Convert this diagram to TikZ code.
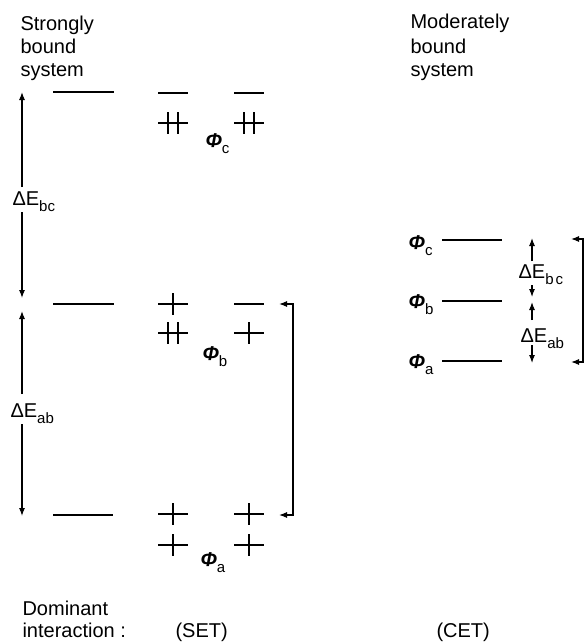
\documentclass[tikz,border=0pt]{standalone}
\usepackage{fontspec}
\setmainfont{Liberation Sans}
\usetikzlibrary{arrows.meta}
\newcommand{\lowsub}[1]{\raisebox{-6pt}{\fontsize{15}{15}\selectfont #1}}
\newcommand{\phisym}{{\bfseries\itshape Φ}}
\tikzset{
  txt/.style={anchor=base west, inner sep=0pt, font=\fontsize{20}{23}\selectfont},
  arr/.style={-{Latex[length=8pt,width=6pt]}},
  biarr/.style={{Latex[length=8pt,width=6pt]}-{Latex[length=8pt,width=6pt]}},
  pzero/.pic={\draw (-15,0)--(15,0);},
  pone/.pic={\draw (-15,0)--(15,0); \draw (0,-11)--(0,11);},
  ptwo/.pic={\draw (-15,0)--(15,0); \draw (-5,-11)--(-5,11); \draw (5,-11)--(5,11);}
}
\begin{document}
\begin{tikzpicture}[x=1pt,y=-1pt,line width=1.1pt]
\useasboundingbox (0,0) rectangle (588,642);

% titles
\node[txt] (s1) at (20,31) {Strongly};
\node[txt] (s2) at (20,54) {bound};
\node[txt] (s3) at (20,77) {system};
\node[txt] (m1) at (410,29) {Moderately};
\node[txt] (m2) at (410,53) {bound};
\node[txt] (m3) at (410,76) {system};

% bottom texts
\node[txt] (d1) at (22,615) {Dominant};
\node[txt] (d2) at (22,637) {interaction :};
\node[txt] (set) at (175,637) {(SET)};
\node[txt] (cet) at (436,637) {(CET)};

% left levels
\draw (53,92) -- (114,92);
\draw (53,304) -- (114,304);
\draw (53,515) -- (113,515);

% electron configurations
\pic at (173,93) {pzero};
\pic at (249,93) {pzero};
\pic at (173,123) {ptwo};
\pic at (249,123) {ptwo};
\pic at (173,304) {pone};
\pic at (249,304) {pzero};
\pic at (173,333) {ptwo};
\pic at (249,333) {pone};
\pic at (173,514) {pone};
\pic at (249,514) {pone};
\pic at (173,545) {pone};
\pic at (249,545) {pone};

% phi labels left
\node[txt] (phc) at (205,147) {\phisym\lowsub{c}};
\node[txt] (phb) at (202,360) {\phisym\lowsub{b}};
\node[txt] (pha) at (200,566) {\phisym\lowsub{a}};

% left energy-gap arrows
\node[txt] (ebcL) at (12,205) {ΔE\lowsub{bc}};
\node[txt] (eabL) at (10,417) {ΔE\lowsub{ab}};
\coordinate (L1top) at (22,92);
\coordinate (L1a) at (22,187);
\coordinate (L1b) at (22,212);
\coordinate (L1bot) at (22,298);
\coordinate (L2top) at (22,311);
\coordinate (L2a) at (22,394);
\coordinate (L2b) at (22,424);
\coordinate (L2bot) at (22,516);
\draw[arr] (L1a) -- (L1top);
\draw[arr] (L1b) -- (L1bot);
\draw[arr] (L2a) -- (L2top);
\draw[arr] (L2b) -- (L2bot);

% left bracket
\coordinate (BL1) at (279,304);
\coordinate (BLc1) at (293,304);
\coordinate (BLc2) at (293,515);
\coordinate (BL2) at (279,515);
\draw[biarr] (BL1) -- (BLc1) -- (BLc2) -- (BL2);

% right levels
\node[txt] (rphc) at (408,249) {\phisym\lowsub{c}};
\node[txt] (rphb) at (408,308) {\phisym\lowsub{b}};
\node[txt] (rpha) at (408,368) {\phisym\lowsub{a}};
\draw (442,240) -- (502,240);
\draw (442,301) -- (502,301);
\draw (442,361) -- (502,361);

% right energy-gap arrows
\node[txt] (ebcR) at (518,278) {ΔE\lowsub{b\hspace{2pt}c}};
\node[txt] (eabR) at (520,342) {ΔE\lowsub{ab}};
\coordinate (R1top) at (532,238);
\coordinate (R1a) at (532,261);
\coordinate (R1b) at (532,285);
\coordinate (R1bot) at (532,297);
\coordinate (R2top) at (532,302);
\coordinate (R2a) at (532,320);
\coordinate (R2b) at (532,345);
\coordinate (R2bot) at (532,363);
\draw[arr] (R1a) -- (R1top);
\draw[arr] (R1b) -- (R1bot);
\draw[arr] (R2a) -- (R2top);
\draw[arr] (R2b) -- (R2bot);

% right bracket
\coordinate (BR1) at (571,239);
\coordinate (BRc1) at (583,239);
\coordinate (BRc2) at (583,362);
\coordinate (BR2) at (571,362);
\draw[biarr] (BR1) -- (BRc1) -- (BRc2) -- (BR2);
\end{tikzpicture}
\end{document}
